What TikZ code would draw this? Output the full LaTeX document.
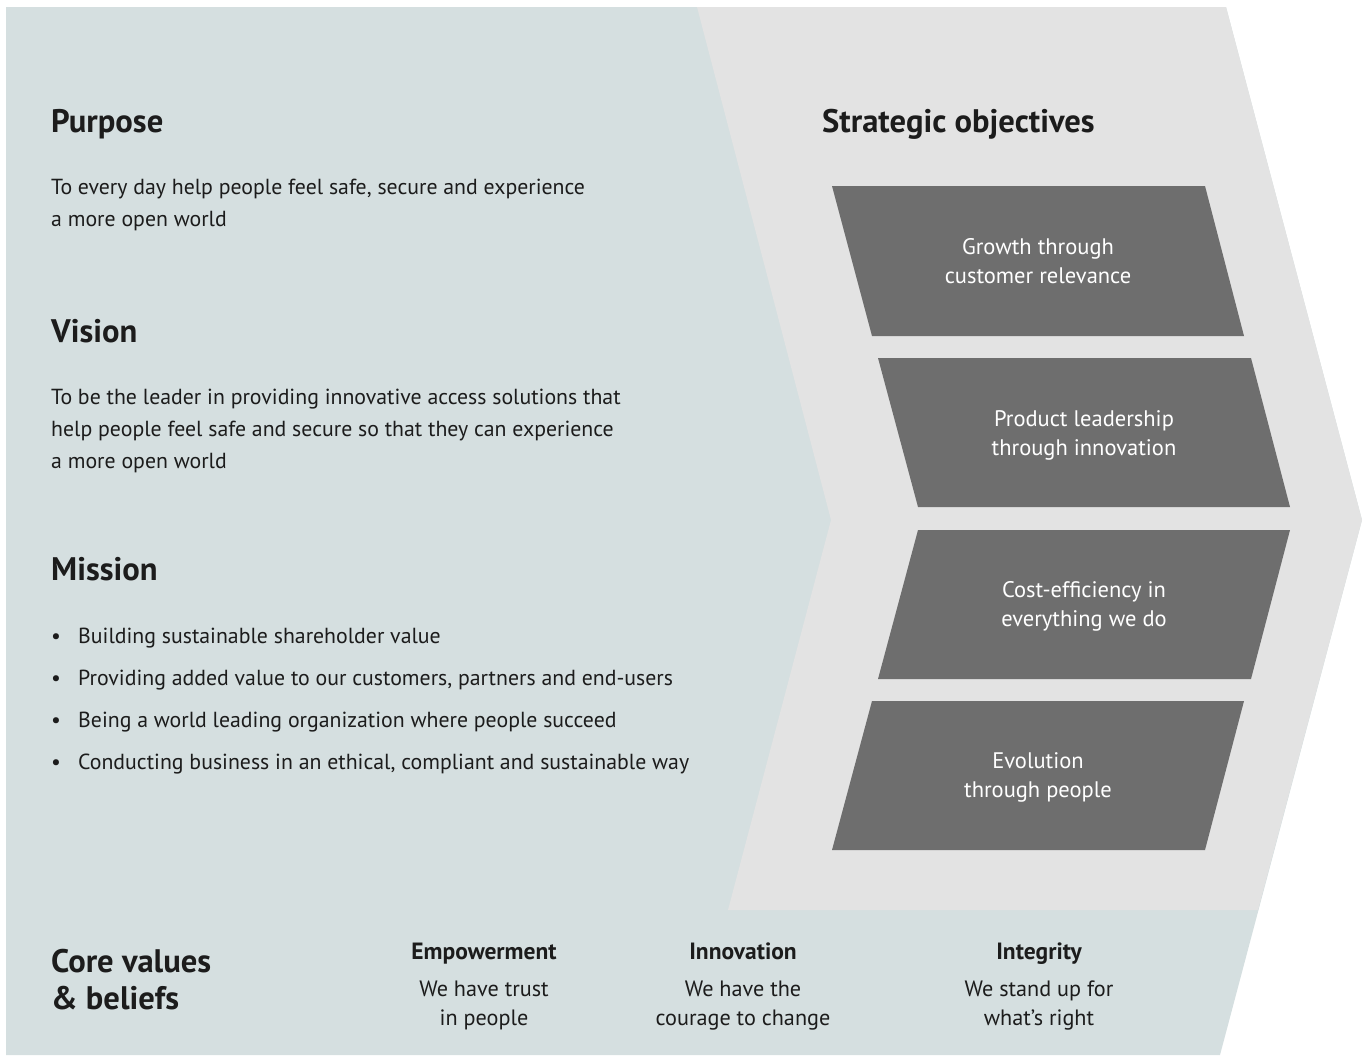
\documentclass[tikz,border=0pt]{standalone}
\usepackage{fontspec}
\setmainfont{PT Sans}
\definecolor{bluebg}{HTML}{D5DFE0}
\definecolor{greybg}{HTML}{E3E3E3}
\definecolor{darkbox}{HTML}{6E6E6E}
\definecolor{ink}{HTML}{1C1C1C}
\begin{document}
\begin{tikzpicture}[x=1pt,y=-1pt,
  heading/.style={anchor=base west,inner sep=0pt,text=ink,font=\fontsize{32.6}{37}\selectfont\bfseries},
  body/.style={anchor=base west,inner sep=0pt,text=ink,font=\fontsize{21.8}{32}\selectfont},
  bul/.style={anchor=base west,inner sep=0pt,text=ink,font=\fontsize{21.8}{32}\selectfont},
  valhead/.style={anchor=base,inner sep=0pt,text=ink,font=\fontsize{23.5}{29}\selectfont\bfseries},
  valtext/.style={anchor=base,inner sep=0pt,text=ink,align=center,font=\fontsize{22.2}{29}\selectfont},
  objbox/.style={fill=darkbox,draw=none},
  objtext/.style={anchor=base,inner sep=0pt,text=white,align=center,font=\fontsize{22.5}{29}\selectfont}]
\useasboundingbox (0,0) rectangle (1367,1055);
% backgrounds
\fill[bluebg] (6,7) -- (1226,7) -- (1362,520) -- (1220,1055) -- (6,1055) -- cycle;
\fill[greybg] (697,7) -- (1226,7) -- (1362,520) -- (1258,910) -- (728,910) -- (831,520) -- cycle;
% objective boxes
\fill[objbox] (832,186) -- (1205,186) -- (1244,336) -- (872,336) -- cycle;
\fill[objbox] (878,358) -- (1251,358) -- (1290,507) -- (918,507) -- cycle;
\fill[objbox] (918,530) -- (1290,530) -- (1251,679) -- (878,679) -- cycle;
\fill[objbox] (872,701) -- (1244,701) -- (1205,850) -- (832,850) -- cycle;
\node[objtext] (o1a) at (1038,254) {Growth through};
\node[objtext] (o1b) at (1038,283) {customer relevance};
\node[objtext] (o2a) at (1084,426) {Product leadership};
\node[objtext] (o2b) at (1084,455) {through innovation};
\node[objtext] (o3a) at (1084,597) {Cost-efficiency in};
\node[objtext] (o3b) at (1084,626) {everything we do};
\node[objtext] (o4a) at (1038,768) {Evolution};
\node[objtext] (o4b) at (1038,797) {through people};
% headings
\node[heading] (purpose) at (51,132) {Purpose};
\node[heading] (vision) at (51,342) {Vision};
\node[heading] (mission) at (51,580) {Mission};
\node[heading] (strat) at (822,132) {Strategic objectives};
\node[heading] (core1) at (51,972) {Core values};
\node[heading] (core2) at (51,1009) {\& beliefs};
% body
\node[body] (p1) at (51,194) {To every day help people feel safe, secure and experience};
\node[body] (p2) at (51,226) {a more open world};
\node[body] (v1) at (51,404) {To be the leader in providing innovative access solutions that};
\node[body] (v2) at (51,436) {help people feel safe and secure so that they can experience};
\node[body] (v3) at (51,468) {a more open world};
\foreach \y/\t [count=\i] in {643/Building sustainable shareholder value,
  685/{Providing added value to our customers, partners and end-users},
  727/Being a world leading organization where people succeed,
  769/{Conducting business in an ethical, compliant and sustainable way}}{
  \node[bul] (b\i) at (51,\y) {•};
  \node[body] (m\i) at (78,\y) {\t};
}
% core values
\node[valhead] (e1) at (484,959) {Empowerment};
\node[valtext] (e2) at (484,996) {We have trust};
\node[valtext] (e3) at (484,1025) {in people};
\node[valhead] (i1) at (743,959) {Innovation};
\node[valtext] (i2) at (743,996) {We have the};
\node[valtext] (i3) at (743,1025) {courage to change};
\node[valhead] (g1) at (1039,959) {Integrity};
\node[valtext] (g2) at (1039,996) {We stand up for};
\node[valtext] (g3) at (1039,1025) {what’s right};
\end{tikzpicture}
\end{document}
